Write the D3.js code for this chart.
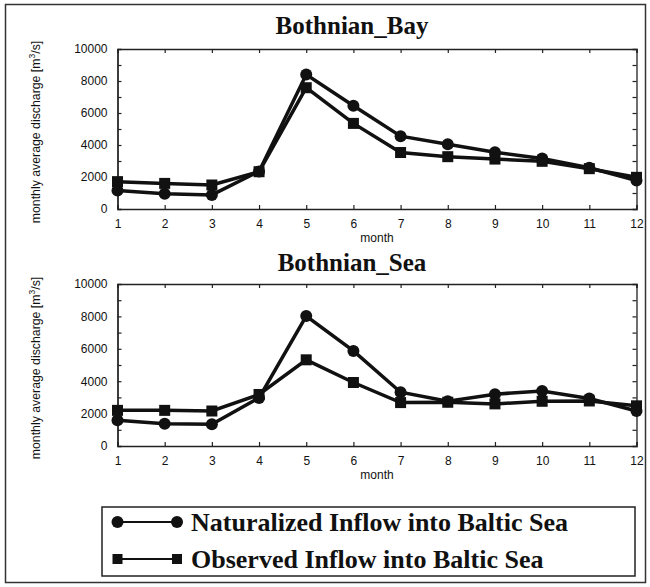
<!DOCTYPE html>
<html><head><meta charset="utf-8">
<script src="https://cdn.jsdelivr.net/npm/d3@7"></script>
<style>body{margin:0;background:#fff}</style>
</head><body>
<script>
const months = [1,2,3,4,5,6,7,8,9,10,11,12];
const yTicks = [0,2000,4000,6000,8000,10000];
const bayNaturalized = [1150,950,880,2350,8400,6450,4550,4050,3550,3150,2580,1780];
const bayObserved    = [1710,1600,1500,2330,7580,5350,3530,3270,3120,2980,2520,1980];
const seaNaturalized = [1590,1380,1340,2970,8020,5870,3320,2760,3200,3400,2930,2160];
const seaObserved    = [2200,2200,2160,3180,5320,3920,2680,2700,2600,2760,2780,2480];
const titles = ["Bothnian_Bay","Bothnian_Sea"];
const legendLabels = ["Naturalized Inflow into Baltic Sea","Observed Inflow into Baltic Sea"];

const W = 650, H = 587;
const svg = d3.select("body").append("svg").attr("width",W).attr("height",H);
svg.append("rect").attr("x",5.5).attr("y",4.5).attr("width",640).attr("height",578)
  .attr("fill","none").attr("stroke","#333").attr("stroke-width",1.5);

const x = d3.scaleLinear().domain([1,12]).range([117.5,636.5]);
const sans = "Liberation Sans, Arial, sans-serif";
const serif = "Liberation Serif, Times New Roman, serif";

function panel(top, bottom, title, nat, obs, titleY){
  const y = d3.scaleLinear().domain([0,10000]).range([bottom, top]);
  const g = svg.append("g");
  g.append("text").attr("x",352).attr("y",titleY).attr("text-anchor","middle")
    .attr("font-family",serif).attr("font-weight","bold")
    .attr("font-size",25).attr("fill","#111").text(title);
  const ax = g.append("g").attr("transform",`translate(0,${bottom})`)
    .call(d3.axisBottom(x).tickValues(months).tickSize(-4).tickPadding(10).tickFormat(d3.format("d")));
  const axT = g.append("g").attr("transform",`translate(0,${top})`)
    .call(d3.axisTop(x).tickValues(months).tickSize(-4).tickFormat(""));
  const ay = g.append("g").attr("transform",`translate(${x(1)},0)`)
    .call(d3.axisLeft(y).tickValues(yTicks).tickSize(0).tickPadding(10).tickFormat(d3.format("d")));
  const ayM = g.append("g").attr("transform",`translate(${x(1)},0)`)
    .call(d3.axisLeft(y).tickValues(d3.range(1000,10000,1000)).tickSize(-4).tickFormat(""));
  const ayR = g.append("g").attr("transform",`translate(${x(12)},0)`)
    .call(d3.axisRight(y).tickValues(d3.range(1000,10000,1000)).tickSize(-4).tickFormat(""));
  [ax,axT,ay,ayM,ayR].forEach(a=>{
    a.selectAll("path.domain").attr("stroke","#222").attr("stroke-width",1.3);
    a.selectAll("line").attr("stroke","#222").attr("stroke-width",1.2);
    a.selectAll("text").attr("font-family",sans).attr("font-size",12).attr("fill","#111");
  });
  g.append("text").attr("x",(117.5+636.5)/2).attr("y",bottom+33).attr("text-anchor","middle")
    .attr("font-family",sans).attr("font-size",12).attr("fill","#111").text("month");
  const yl = g.append("text").attr("transform",`translate(40,${(top+bottom)/2+3}) rotate(-90)`)
    .attr("text-anchor","middle").attr("font-family",sans)
    .attr("font-size",12.3).attr("fill","#111");
  yl.append("tspan").text("monthly average discharge [m");
  yl.append("tspan").attr("font-size",8.5).attr("dy",-5).text("3");
  yl.append("tspan").attr("dy",5).text("/s]");

  const line = d3.line().x((d,i)=>x(months[i])).y(d=>y(d));
  g.append("path").datum(obs).attr("d",line).attr("fill","none").attr("stroke","#111").attr("stroke-width",3.5);
  g.append("path").datum(nat).attr("d",line).attr("fill","none").attr("stroke","#111").attr("stroke-width",3.5);
  g.selectAll(".sq").data(obs).enter().append("rect")
    .attr("x",(d,i)=>x(months[i])-5.5).attr("y",d=>y(d)-5.5).attr("width",11).attr("height",11).attr("fill","#111");
  g.selectAll(".ci").data(nat).enter().append("circle")
    .attr("cx",(d,i)=>x(months[i])).attr("cy",d=>y(d)).attr("r",6).attr("fill","#111");
}
panel(49,209,titles[0],bayNaturalized,bayObserved,34);
panel(284,446,titles[1],seaNaturalized,seaObserved,271);

// legend
const lg = svg.append("g");
lg.append("rect").attr("x",102).attr("y",507).attr("width",533).attr("height",69)
  .attr("fill","none").attr("stroke","#222").attr("stroke-width",1.5);
const rows = [522,559];
legendLabels.forEach((t,i)=>{
  const yy = rows[i];
  lg.append("line").attr("x1",117.5).attr("x2",177).attr("y1",yy).attr("y2",yy).attr("stroke","#111").attr("stroke-width",2.2);
  if(i===0){
    lg.append("circle").attr("cx",117.5).attr("cy",yy).attr("r",6).attr("fill","#111");
    lg.append("circle").attr("cx",177).attr("cy",yy).attr("r",6).attr("fill","#111");
  } else {
    lg.append("rect").attr("x",112.5).attr("y",yy-5).attr("width",10).attr("height",10).attr("fill","#111");
    lg.append("rect").attr("x",172).attr("y",yy-5).attr("width",10).attr("height",10).attr("fill","#111");
  }
  lg.append("text").attr("x",191).attr("y",yy+9).attr("font-family",serif)
    .attr("font-weight","bold").attr("font-size",26).attr("fill","#111").text(t);
});
</script>
</body></html>
